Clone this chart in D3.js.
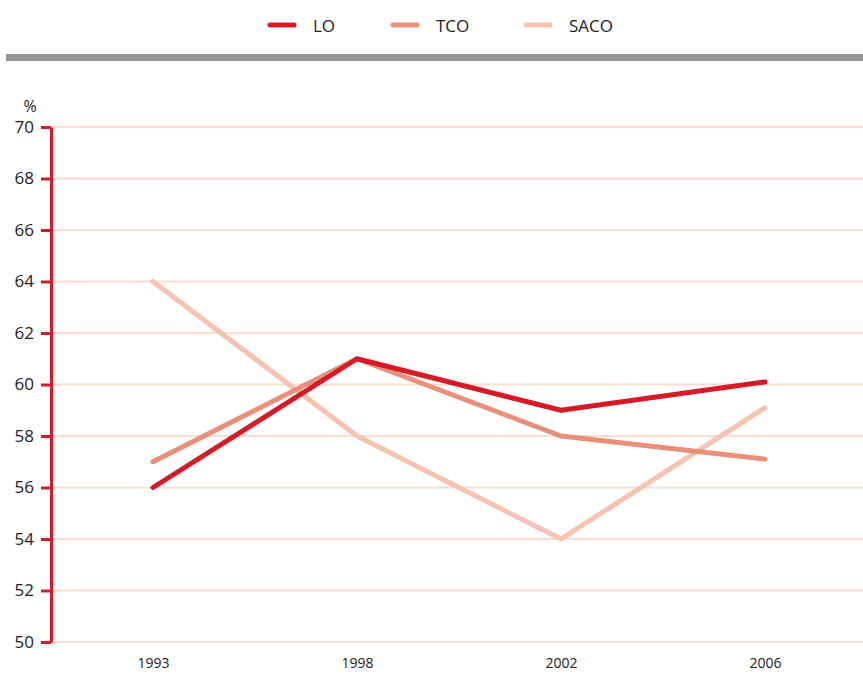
<!DOCTYPE html>
<html>
<head>
<meta charset="utf-8">
<script src="https://cdn.jsdelivr.net/npm/d3@7"></script>
<style>
  body { margin: 0; background: #fff; }
  svg { display: block; font-family: "Open Sans", "DejaVu Sans", sans-serif; }
</style>
</head>
<body>
<svg id="chart" width="863" height="675"></svg>
<script>
"use strict";

const years = ["1993", "1998", "2002", "2006"];
const loValues = [56, 61, 59, 60.1];
const tcoValues = [57, 61, 58, 57.1];
const sacoValues = [64, 58, 54, 59.1];
const seriesNames = ["LO", "TCO", "SACO"];
const yTicks = [50, 52, 54, 56, 58, 60, 62, 64, 66, 68, 70];

const colors = { LO: "#d71a28", TCO: "#e8907a", SACO: "#f6c3b1" };
const series = [
  { name: "LO", values: loValues },
  { name: "TCO", values: tcoValues },
  { name: "SACO", values: sacoValues }
];

const svg = d3.select("#chart"),
    width = +svg.attr("width"),
    margin = { left: 51, top: 127, bottom: 642 };

const x = d3.scalePoint()
    .domain(years)
    .range([51, 867])
    .padding(0.5);

const y = d3.scaleLinear()
    .domain([50, 70])
    .range([margin.bottom, margin.top]);

// Legend
const legendX = [268, 391, 524];
const legend = svg.append("g")
    .selectAll("g")
    .data(seriesNames)
    .enter().append("g")
    .attr("transform", (d, i) => "translate(" + legendX[i] + ",25)");

legend.append("line")
    .attr("x1", 2).attr("x2", 26)
    .attr("stroke", (d) => colors[d])
    .attr("stroke-width", 5)
    .attr("stroke-linecap", "round");

legend.append("text")
    .attr("x", 45)
    .attr("y", 7)
    .attr("font-size", 17)
    .attr("fill", "#222")
    .text((d) => d);

// Grey rule under legend
svg.append("rect")
    .attr("x", 6).attr("y", 54)
    .attr("width", width - 6).attr("height", 7)
    .attr("fill", "#939598");

// Gridlines
svg.append("g")
    .selectAll("line")
    .data(yTicks)
    .enter().append("line")
    .attr("x1", margin.left).attr("x2", width)
    .attr("y1", (d) => y(d)).attr("y2", (d) => y(d))
    .attr("stroke", "#fbddd3")
    .attr("stroke-width", 2);

// Y axis
const yAxis = svg.append("g")
    .attr("transform", "translate(" + margin.left + ",0)")
    .call(d3.axisLeft(y).tickValues(yTicks).tickSize(10).tickSizeOuter(0).tickPadding(7));

yAxis.select(".domain").attr("stroke", "#d71a28").attr("stroke-width", 3);
yAxis.selectAll(".tick line").attr("stroke", "#d71a28").attr("stroke-width", 3);
yAxis.selectAll(".tick text")
    .attr("font-size", 17)
    .attr("fill", "#222")
    .attr("font-family", "'Open Sans', sans-serif");

svg.append("text")
    .attr("x", 30).attr("y", 112)
    .attr("text-anchor", "middle")
    .attr("font-size", 16)
    .attr("fill", "#222")
    .text("%");

// X axis labels
const xAxis = svg.append("g")
    .attr("transform", "translate(0," + margin.bottom + ")")
    .call(d3.axisBottom(x).tickSize(0).tickPadding(16));
xAxis.select(".domain").remove();
xAxis.selectAll(".tick text")
    .attr("font-size", 14)
    .attr("fill", "#222")
    .attr("font-family", "'Open Sans', sans-serif");

// Lines
const line = d3.line()
    .x((d, i) => x(years[i]))
    .y((d) => y(d));

svg.append("g")
    .selectAll("path")
    .data(series.slice().reverse())
    .enter().append("path")
    .attr("d", (d) => line(d.values))
    .attr("fill", "none")
    .attr("stroke", (d) => colors[d.name])
    .attr("stroke-width", 5)
    .attr("stroke-linecap", "round")
    .attr("stroke-linejoin", "round");
</script>
</body>
</html>
